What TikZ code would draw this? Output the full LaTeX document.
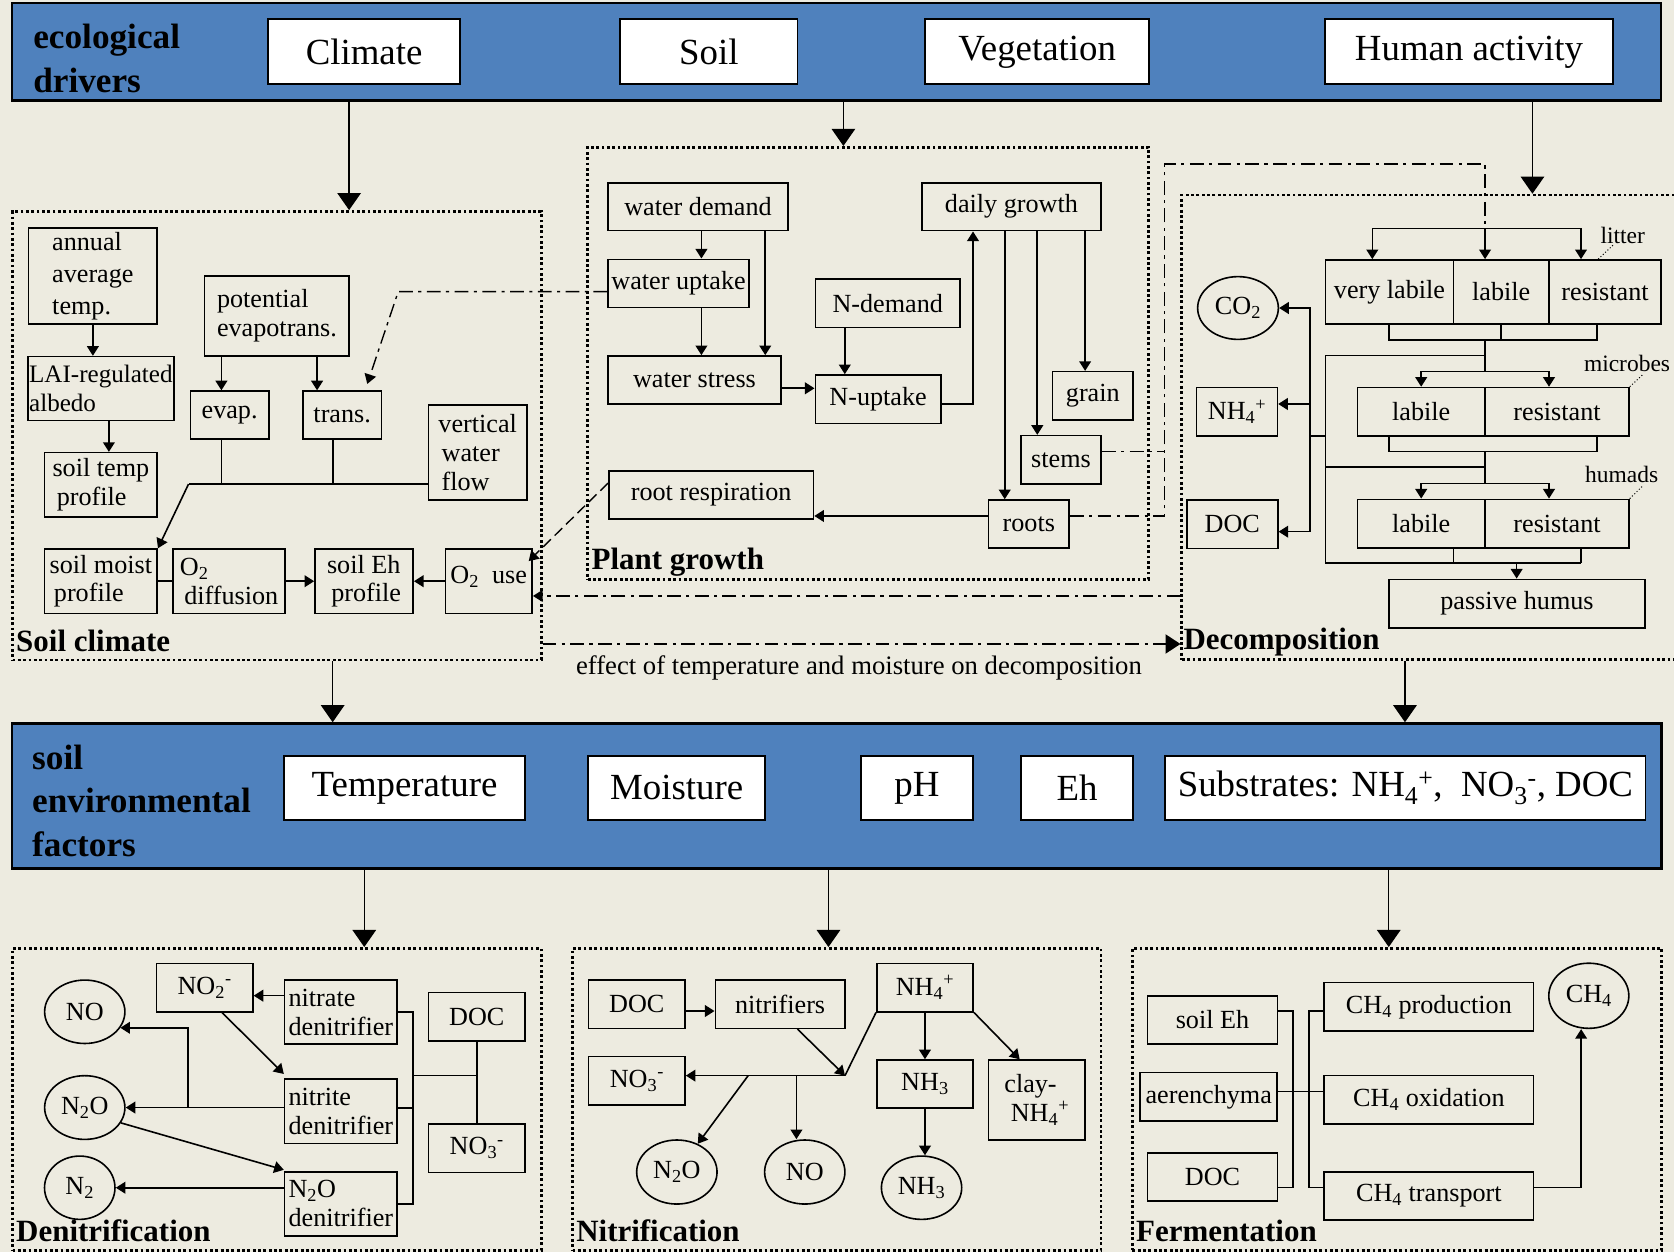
\documentclass[tikz,border=0pt]{standalone}
\usepackage{fontspec}
\setmainfont{Liberation Serif}
\usetikzlibrary{shapes.geometric, arrows.meta, positioning, calc}

\definecolor{bgbeige}{RGB}{237,235,224}
\definecolor{bandblue}{RGB}{79,129,189}

\begin{document}
\begin{tikzpicture}[
    x=1pt, y=-1pt,
    sz/.style 2 args={minimum width=#1pt, minimum height=#2pt},
    box/.style={rectangle, draw, line width=1.5pt, inner sep=1pt, align=center, font=\fontsize{24.5}{27}\selectfont},
    oval/.style={ellipse, draw, line width=1.5pt, inner sep=0pt, font=\fontsize{24.5}{27}\selectfont},
    topbox/.style={rectangle, draw, line width=1.8pt, fill=white, inner sep=0pt, font=\fontsize{34.5}{40}\selectfont},
    band/.style={rectangle, draw, line width=2.2pt, fill=bandblue, inner sep=0pt},
    frame/.style={rectangle, draw, line width=2.6pt, dash pattern=on 2.6pt off 2.4pt, inner sep=0pt},
    bandlabel/.style={anchor=north west, inner sep=0pt, align=left, font=\fontsize{33}{41}\selectfont\bfseries},
    framelabel/.style={anchor=base west, inner sep=0pt, font=\fontsize{29}{34}\selectfont\bfseries},
    tag/.style={inner sep=0pt, font=\fontsize{22}{26}\selectfont},
    arrow/.style={line width=1.5pt, -{Triangle[length=9pt,width=11pt]}},
    bigarrow/.style={line width=1.3pt, -{Triangle[length=16pt,width=22pt]}},
    link/.style={line width=1.5pt},
    dashdot/.style={line width=1.3pt, dash pattern=on 13pt off 5pt on 3pt off 5pt},
    leader/.style={line width=0.9pt, dash pattern=on 1pt off 2pt}
]

\useasboundingbox (0,0) rectangle (1568,1173);
\fill[bgbeige] (0,0) rectangle (1568,1173);

% Ecological drivers
\node[band, sz={1545}{91}] (drivers) at (783.5,48.5) {};
\node[bandlabel] (drvlabel) at (31,22.5) {ecological\\drivers};
\node[topbox, sz={180}{61}] (climate) at (341,48.5) {Climate};
\node[topbox, sz={166}{61}] (soil) at (664,48.5) {Soil};
\node[topbox, sz={210}{61}] (vegetation) at (971.5,48.5) {Vegetation};
\node[topbox, sz={270}{61}] (human) at (1376,48.5) {Human activity};

% Sub-model frames
\node[frame, sz={495.1}{420}] (soilclim) at (259.3,408.1) {};
\node[frame, sz={525.5}{404.6}] (plantg) at (813.3,340.3) {};
\node[frame, sz={483}{435.3}] (decomp) at (1348.5,400.4) {};
\node[framelabel] (lblsoil) at (15,610.4) {Soil climate};
\node[framelabel] (lblplant) at (554,533.8) {Plant growth};
\node[framelabel] (lbldecomp) at (1108.4,608.8) {Decomposition};

% Soil environmental factors
\node[band, sz={1545.4}{135.8}] (factors) at (783.7,745.5) {};
\node[bandlabel] (fctlabel) at (30,697.2) {soil\\environmental\\factors};
\node[topbox, sz={225.8}{60.3}] (temperature) at (378.9,738) {Temperature};
\node[topbox, sz={165.6}{60.3}] (moisture) at (633.8,738) {Moisture};
\node[topbox, sz={105.4}{60.3}] (ph) at (858.8,738) {pH};
\node[topbox, sz={104.9}{60.3}] (eh) at (1008.9,738) {Eh};
\node[topbox, sz={449.8}{60.3}] (substrates) at (1316.4,738) {Substrates: NH\textsubscript{4}\textsuperscript{+},\ \ NO\textsubscript{3}\textsuperscript{-}, DOC};

% Bottom frames
\node[frame, sz={495.1}{282.7}] (denit) at (259.3,1029.7) {};
\node[frame, sz={495.1}{282.7}] (nitrif) at (783.8,1029.7) {};
\node[frame, sz={495.8}{282.7}] (ferment) at (1308.6,1029.7) {};
\node[framelabel] (lbldenit) at (15,1163) {Denitrification};
\node[framelabel] (lblnitrif) at (539.6,1163) {Nitrification};
\node[framelabel] (lblferment) at (1064,1163) {Fermentation};

% Main arrows
\draw[bigarrow] (drivers.south -| 327,0) -- (soilclim.north -| 327,0);
\draw[bigarrow] (drivers.south -| 790,0) -- (plantg.north -| 790,0);
\draw[bigarrow] (drivers.south -| 1435.4,0) -- (decomp.north -| 1435.4,0);
\draw[bigarrow] (soilclim.south -| 311.6,0) -- (factors.north -| 311.6,0);
\draw[bigarrow] (decomp.south -| 1316,0) -- (factors.north -| 1316,0);
\draw[bigarrow] (factors.south -| 341.2,0) -- (denit.north -| 341.2,0);
\draw[bigarrow] (factors.south -| 776,0) -- (nitrif.north -| 776,0);
\draw[bigarrow] (factors.south -| 1300.8,0) -- (ferment.north -| 1300.8,0);

\draw[dashdot, -{Triangle[length=14pt,width=18pt]}] (soilclim.east |- 0,603.2) -- (decomp.west |- 0,603.2);
\node[anchor=base west, inner sep=0pt, font=\fontsize{25}{28}\selectfont] (effect) at (539.4,632) {effect of temperature and moisture on decomposition};

% Soil climate
\node[box, sz={120.4}{90.2}, align=left, font=\fontsize{24.5}{30}\selectfont] (annual) at (87,258.4) {annual\\average\\temp.};
\node[box, sz={135.4}{60}, align=left, font=\fontsize{23.5}{27}\selectfont] (lai) at (94.5,364) {LAI-regulated\\albedo};
\node[box, sz={105.4}{60}, align=left] (soiltemp) at (94.5,454) {soil temp\\\hspace*{4pt}profile};
\node[box, sz={135.4}{75.3}, align=left] (potevap) at (259.4,295.9) {potential\\evapotrans.};
\node[box, sz={73.6}{44.9}] (evap) at (215.1,388.8) {evap.};
\node[box, sz={73.5}{44.9}] (trans) at (320.5,388.8) {trans.};
\node[box, sz={92}{89}, align=left] (vwater) at (447.4,423.9) {vertical\\\hspace*{3pt}water\\\hspace*{3pt}flow};
\node[box, sz={105.4}{60.2}, align=left] (soilmoist) at (94.5,544.4) {soil moist\\\hspace*{4pt}profile};
\node[box, sz={104.7}{60.2}, align=left] (o2diff) at (214.6,544.4) {O\textsubscript{2}\\\hspace*{4pt}diffusion};
\node[box, sz={92}{60.2}, align=left] (soileh) at (341,544.4) {soil Eh\\\hspace*{4pt}profile};
\node[box, sz={81.3}{60.2}, text depth=12pt] (o2use) at (457.8,544.4) {O\textsubscript{2}\ \ use};

\coordinate (wj) at (176.6,453.4);
\draw[arrow] (annual.south) -- (annual.south |- lai.north);
\draw[arrow] (lai.south -| 102,0) -- (soiltemp.north -| 102,0);
\draw[arrow] (potevap.south -| 207.4,0) -- (evap.north -| 207.4,0);
\draw[arrow] (potevap.south -| 297,0) -- (trans.north -| 297,0);
\draw[link] (evap.south -| 207.4,0) -- (wj -| 207.4,0);
\draw[link] (trans.south -| 311.8,0) -- (wj -| 311.8,0);
\draw[link] (vwater.west |- wj) -- (wj);
\draw[arrow] (wj) -- (soilmoist.north east);
\draw[link] (soilmoist) -- (o2diff);
\draw[arrow] (o2diff) -- (soileh);
\draw[arrow] (o2use) -- (soileh);

% Plant growth
\node[box, sz={168.5}{44.9}] (wdemand) at (653.8,193.6) {water demand};
\node[box, sz={132.2}{45.2}] (wuptake) at (635.6,265.5) {water uptake};
\node[box, sz={162}{45}] (wstress) at (650.5,355.9) {water stress};
\node[box, sz={135.5}{45.3}] (ndemand) at (831.5,284) {N-demand};
\node[box, sz={117.6}{45.3}] (nuptake) at (822.5,373.9) {N-uptake};
\node[box, sz={168.1}{44.9}] (growth) at (947.4,193.6) {daily growth};
\node[box, sz={75.3}{45.3}] (grain) at (1023.6,370.8) {grain};
\node[box, sz={75.2}{45.3}] (stems) at (993.8,430.7) {stems};
\node[box, sz={75.3}{44.7}] (roots) at (963.7,490.7) {roots};
\node[box, sz={191.8}{45}] (rootresp) at (666.1,463.6) {root respiration};

\draw[arrow] (wdemand.south -| 657,0) -- (wuptake.north -| 657,0);
\draw[arrow] (wuptake.south -| 657,0) -- (wstress.north -| 657,0);
\draw[arrow] (wdemand.south -| 716.8,0) -- (wstress.north -| 716.8,0);
\draw[arrow] (wstress.east |- 0,363.7) -- (nuptake.west |- 0,363.7);
\draw[arrow] (ndemand.south -| 791.3,0) -- (nuptake.north -| 791.3,0);
\draw[arrow] (nuptake.east |- 0,378.4) -| (growth.south -| 911.4,0);
\draw[arrow] (growth.south -| 941.1,0) -- (roots.north -| 941.1,0);
\draw[arrow] (growth.south -| 971.6,0) -- (stems.north -| 971.6,0);
\draw[arrow] (growth.south -| 1016.4,0) -- (grain.north -| 1016.4,0);
\draw[arrow] (roots.west |- 0,483.3) -- (rootresp.east |- 0,483.3);

% Links between sub-models
\coordinate (litin) at (1391,214);
\draw[arrow, dashdot] (wuptake.west |- 0,273.2) -- (373,273.2) -- ([xshift=-14pt,yshift=6pt]trans.north east);
\draw[arrow, line width=1.3pt, dash pattern=on 10pt off 5pt] ([yshift=11pt]rootresp.west) -- ([xshift=-4pt,yshift=-12pt]o2use.north east);
\draw[arrow, dashdot] (decomp.west |- 0,558.2) -- (o2use.east |- 0,558.2);
\draw[dashdot] (stems.east |- 0,423) -- (1091,423);
\draw[dashdot] (roots.east |- 0,483.3) -- (1091,483.3) -- (1091,153.6) -- (1391,153.6) -- (litin);

% Decomposition
\node[box, sz={119.6}{60}] (litvl) at (1301.5,273.5) {very labile};
\node[box, sz={89.6}{60}] (litl) at (1406.1,273.5) {labile};
\node[box, sz={104.9}{60}] (litr) at (1503.4,273.5) {resistant};
\node[box, sz={119.6}{45.4}] (mlab) at (1331.2,385.7) {labile};
\node[box, sz={134.8}{45.4}] (mres) at (1458.4,385.7) {resistant};
\node[box, sz={119.6}{45.3}] (hlab) at (1331.2,490.4) {labile};
\node[box, sz={134.8}{45.3}] (hres) at (1458.4,490.4) {resistant};
\node[box, sz={239.8}{45.3}] (passive) at (1420.9,565.3) {passive humus};
\node[oval, sz={75.6}{58.8}] (co2) at (1159.6,288.5) {CO\textsubscript{2}};
\node[box, sz={75.6}{45.4}] (cnh4) at (1158.7,385.7) {NH\textsubscript{4}\textsuperscript{+}};
\node[box, sz={85.3}{45.3}] (cdoc) at (1154.2,491) {DOC};
\node[tag] (litter) at (1520,221) {litter};
\node[tag] (microbes) at (1524,340.5) {microbes};
\node[tag] (humads) at (1519,444.5) {humads};
\draw[leader] (litr.north -| 1497,0) -- (1511,229.5);
\draw[leader] (mres.north east) -- (1538.6,351);
\draw[leader] (hres.north east) -- (1538.6,455.2);

\draw[arrow] (litin) -| (litvl.north -| 1285.4,0);
\draw[arrow] (litin) -- (litl.north -| litin);
\draw[arrow] (litin) -| (litr.north -| 1480.9,0);
\draw[link] (litvl.south -| 1301,0) -- (1301,318.5) -- (1495.9,318.5) -- (litr.south -| 1495.9,0);
\draw[link] (litl.south -| 1406,0) -- (1406,318.5);
\draw[link] (1391,318.5) -- (1391,348.1);
\draw[link] (1391,333) -- (1241.7,333) -- (1241.7,527.6) -- (1480.9,527.6);
\draw[arrow] (1391,348.1) -| (mlab.north);
\draw[arrow] (1391,348.1) -| (mres.north -| 1450.9,0);
\draw[link] (mlab.south -| 1301,0) -- (1301,423) -- (1495.9,423) -- (mres.south -| 1495.9,0);
\draw[link] (1391,423) -- (1391,452.7);
\draw[link] (1241.7,437.7) -- (1391,437.7);
\draw[arrow] (1391,452.7) -| (hlab.north);
\draw[arrow] (1391,452.7) -| (hres.north -| 1450.9,0);
\draw[link] (hlab.south -| 1361.3,0) -- (1361.3,527.6);
\draw[link] (hres.south -| 1480.9,0) -- (1480.9,527.6);
\draw[arrow] (1420.6,527.6) -- (passive.north -| 1420.6,0);
\draw[link] (1241.7,408.4) -- (1227,408.4);
\draw[arrow] (1227,408.4) |- (co2.east);
\draw[arrow] (1227,408.4) |- (cdoc.east |- 0,498);
\draw[arrow] (1227,378.4) -- (cnh4.east |- 0,378.4);

% Denitrification
\node[box, sz={90.3}{45.3}] (no2) at (191.7,925) {NO\textsubscript{2}\textsuperscript{-}};
\node[box, sz={105.4}{59.9}, align=left] (nitrate) at (319.3,948) {nitrate\\denitrifier};
\node[box, sz={105.4}{60.2}, align=left] (nitrite) at (319.3,1040.8) {nitrite\\denitrifier};
\node[box, sz={105.4}{60.2}, align=left] (n2oden) at (319.3,1127.6) {N\textsubscript{2}O\\denitrifier};
\node[box, sz={90.3}{45.3}] (dndoc) at (446.6,952.2) {DOC};
\node[box, sz={90.3}{45.3}] (dnno3) at (446.6,1075.5) {NO\textsubscript{3}\textsuperscript{-}};
\node[oval, sz={75.2}{59.4}] (dnno) at (79.4,947.7) {NO};
\node[oval, sz={75.2}{59.7}] (dnn2o) at (79.4,1037.4) {N\textsubscript{2}O};
\node[oval, sz={66}{59.3}] (dnn2) at (74.7,1112.5) {N\textsubscript{2}};

\draw[arrow] (nitrate.west |- 0,932.6) -- (no2.east |- 0,932.6);
\draw[arrow] (no2.south -| 208,0) -- ([yshift=4pt]nitrite.north west);
\draw[arrow] (nitrite.west |- dnn2o.east) -- (dnn2o.east);
\draw[arrow] (dnn2o.east -| 176.3,0) |- ([xshift=-5pt,yshift=-15pt]dnno.east);
\draw[arrow] (dnn2o.-23) -- ([yshift=1pt]n2oden.north west);
\draw[arrow] (n2oden.west |- dnn2.east) -- (dnn2.east);
\draw[link] (nitrate.east) -- (387,948) -- (387,1127.7) -- (n2oden.east |- 0,1127.7);
\draw[link] (nitrite.east |- 0,1038.1) -- (387,1038.1);
\draw[link] (387,1007.5) -- (dndoc.south |- 0,1007.5);
\draw[link] (dndoc) -- (dnno3);

% Nitrification
\node[box, sz={90.3}{45.2}] (ntdoc) at (596.5,940.6) {DOC};
\node[box, sz={121.4}{45.2}] (nitrifiers) at (730.7,940.6) {nitrifiers};
\node[box, sz={90.3}{45.3}] (ntnh4) at (866.4,925) {NH\textsubscript{4}\textsuperscript{+}};
\node[box, sz={90.3}{45.3}] (ntno3) at (596.5,1012.4) {NO\textsubscript{3}\textsuperscript{-}};
\node[box, sz={90.3}{45.2}] (ntnh3) at (866.4,1015.5) {NH\textsubscript{3}};
\node[box, sz={90.3}{74.9}, align=left] (clay) at (971.1,1030.4) {clay-\\\hspace*{6pt}NH\textsubscript{4}\textsuperscript{+}};
\node[oval, sz={75.3}{60}] (ntn2o) at (634,1097.8) {N\textsubscript{2}O};
\node[oval, sz={75.2}{60}] (ntno) at (753.8,1097.8) {NO};
\node[oval, sz={75.2}{59.3}] (ntnh3gas) at (863.2,1112.5) {NH\textsubscript{3}};

\coordinate (nj) at (791.5,1007.5);
\draw[arrow] (ntdoc.east |- 0,947) -- (nitrifiers.west |- 0,947);
\draw[arrow] (nitrifiers.south -| 747,0) -- (nj);
\draw[link] (ntnh4.south west) -- (nj);
\draw[arrow] (nj) -- (ntno3.east |- nj);
\draw[arrow] (nj -| 700.8,0) -- (ntn2o);
\draw[arrow] (nj -| 746,0) -- (ntno.north -| 746,0);
\draw[arrow] (ntnh4) -- (ntnh3);
\draw[arrow] (ntnh3.south) -- (ntnh3.south |- ntnh3gas.north);
\draw[arrow] (ntnh4.south east) -- ([xshift=-16pt]clay.north);

% Fermentation
\node[box, sz={121.5}{45.3}] (feh) at (1135.7,955.3) {soil Eh};
\node[box, sz={128.4}{45.3}] (aeren) at (1132.2,1027.4) {aerenchyma};
\node[box, sz={121.5}{45.2}] (fdoc) at (1135.7,1102.3) {DOC};
\node[box, sz={196}{45.3}] (ch4prod) at (1338.4,943.1) {CH\textsubscript{4} production};
\node[box, sz={196}{45.3}] (ch4ox) at (1338.4,1030.2) {CH\textsubscript{4} oxidation};
\node[box, sz={196}{45.2}] (ch4tr) at (1338.4,1120.1) {CH\textsubscript{4} transport};
\node[oval, sz={75}{61}] (ch4) at (1488.2,932.7) {CH\textsubscript{4}};

\draw[link] (feh.east |- 0,947) -- (1211.3,947) -- (1211.3,1112.4) -- (fdoc.east |- 0,1112.4);
\draw[link] (aeren.east |- 0,1022.5) -- (ch4ox.west |- 0,1022.5);
\draw[link] (ch4prod.west |- 0,947) -- (1226.2,947) -- (1226.2,1112.4) -- (ch4tr.west |- 0,1112.4);
\draw[arrow] (ch4tr.east |- 0,1112.4) -| (ch4.south -| 1481,0);

\end{tikzpicture}
\end{document}
